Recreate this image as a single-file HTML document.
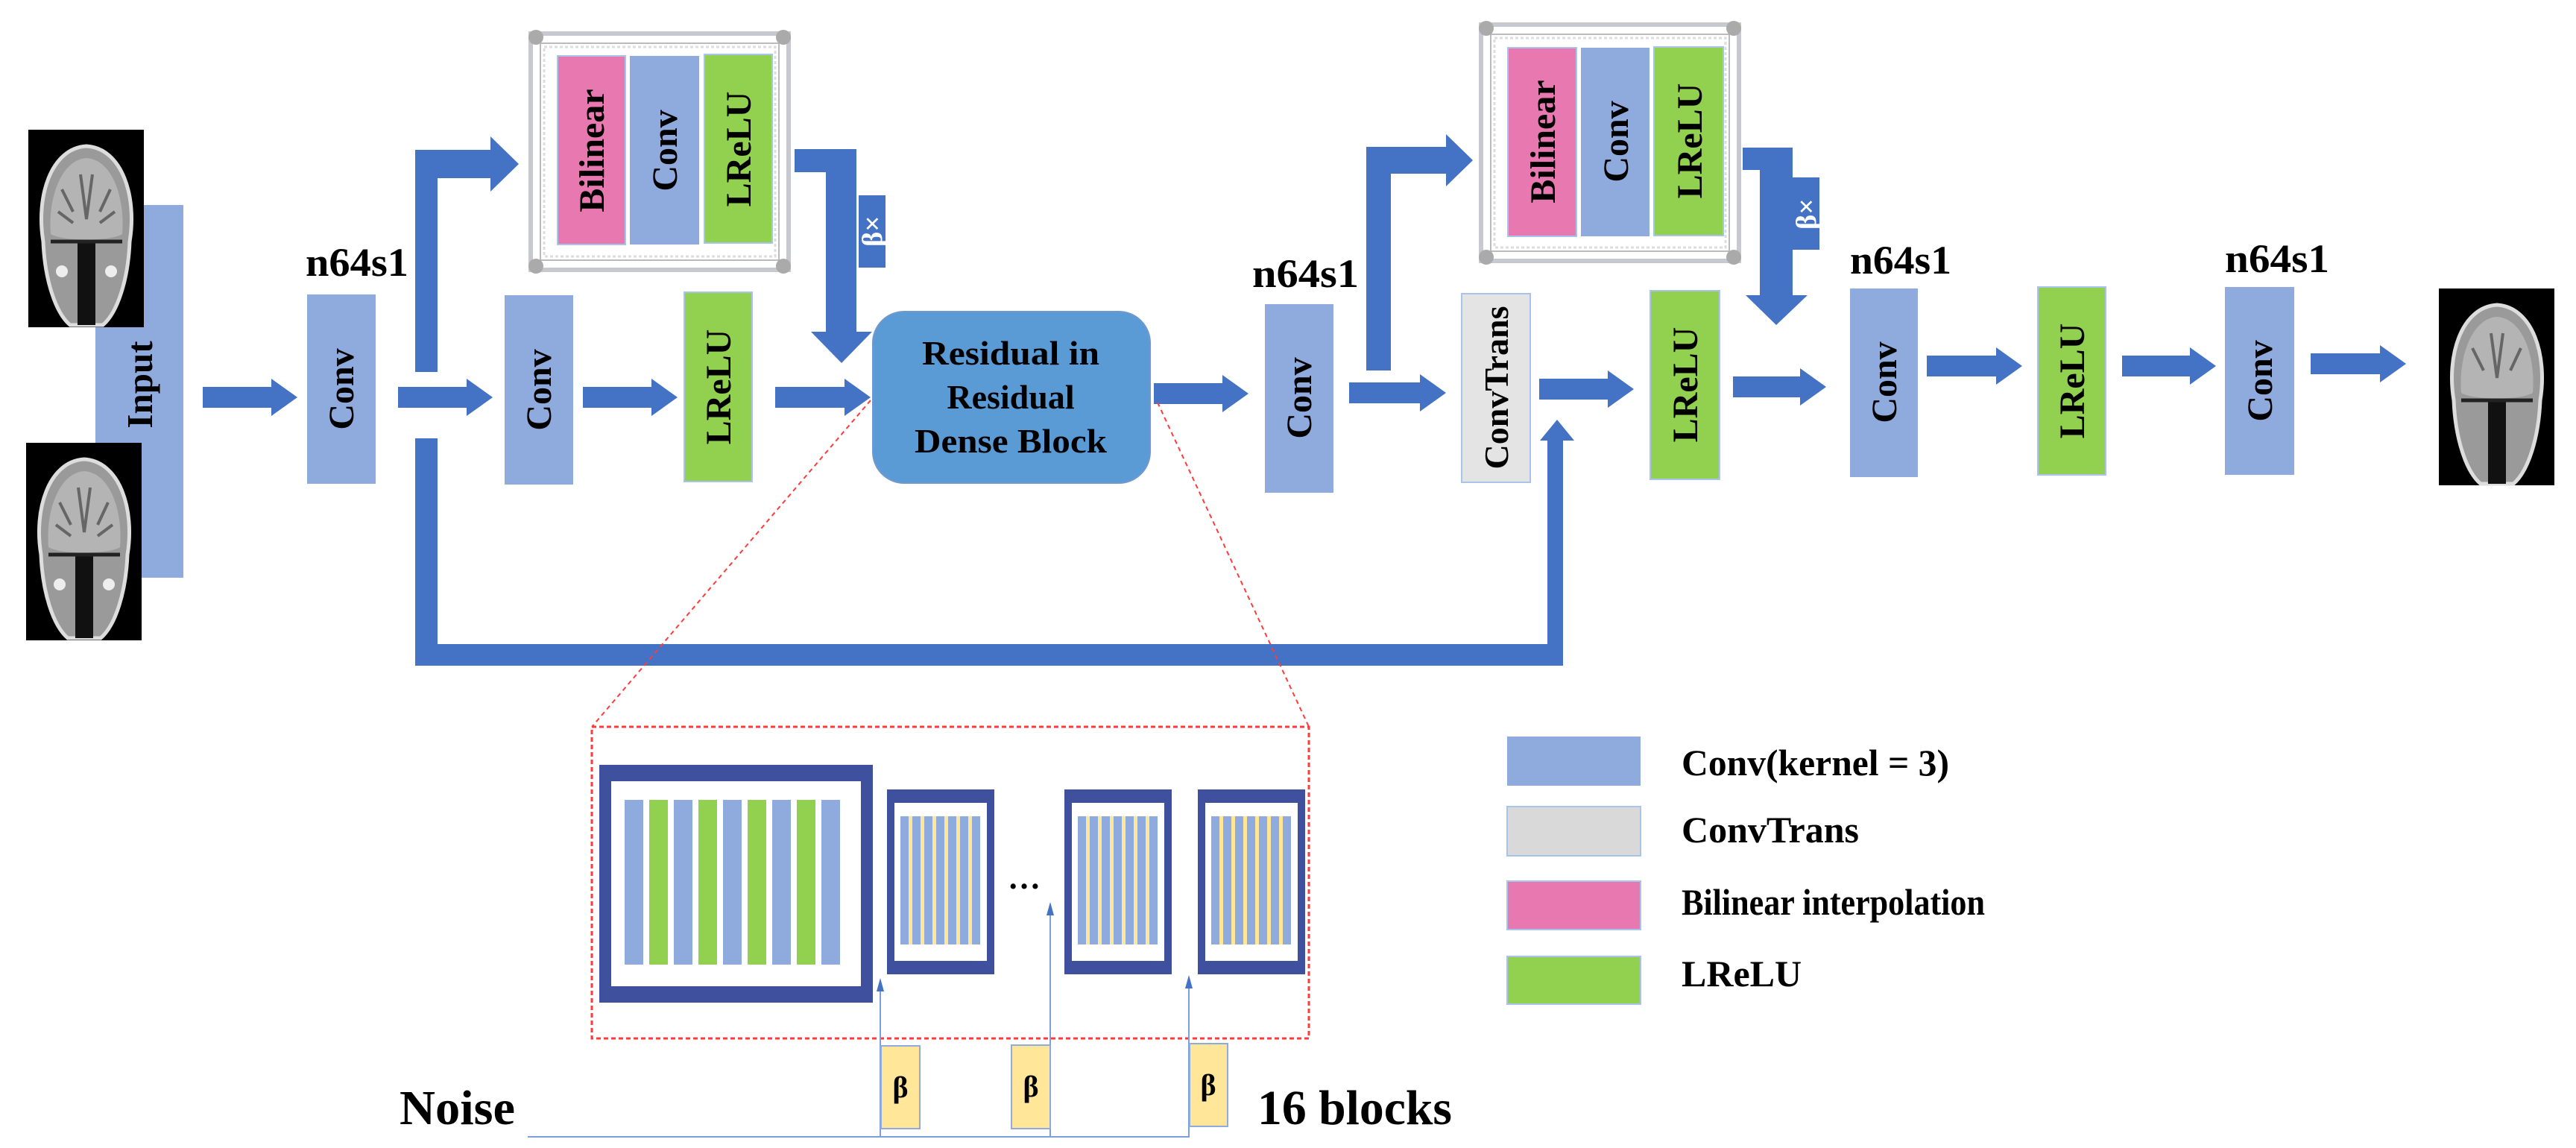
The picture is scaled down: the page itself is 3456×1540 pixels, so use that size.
<!DOCTYPE html>
<html><head><meta charset="utf-8"><style>
html,body{margin:0;padding:0;background:#fff;}
svg{display:block;}
text{font-family:"Liberation Serif",serif;font-weight:bold;fill:#000;}
</style></head><body>
<svg width="3456" height="1540" viewBox="0 0 3456 1540" xmlns="http://www.w3.org/2000/svg">
<defs>
<g id="brain">
<rect x="0" y="0" width="155" height="265" fill="#000"/>
<path d="M20,150 C10,90 30,25 78,22 C126,25 146,90 136,150 C134,200 120,245 100,262 L56,262 C36,245 22,200 20,150 Z" fill="#9a9a9a" stroke="#ddd" stroke-width="5"/>
<path d="M30,140 C26,90 45,40 78,38 C112,40 130,90 126,140 C110,150 46,150 30,140 Z" fill="#b4b4b4"/>
<path d="M70,60 L78,120 L86,60 M45,80 L60,110 M110,80 L96,110 M40,110 L60,125 M116,110 L96,125" stroke="#666" stroke-width="4" fill="none"/>
<rect x="66" y="150" width="24" height="112" fill="#111"/>
<path d="M30,150 L126,150" stroke="#222" stroke-width="5"/>
<circle cx="45" cy="190" r="8" fill="#eee"/><circle cx="111" cy="190" r="8" fill="#eee"/>
</g>
</defs>

<rect x="128" y="275" width="118" height="500" fill="#8faadc"/>
<use href="#brain" x="38" y="174"/>
<use href="#brain" x="35" y="594"/>
<text transform="translate(204,516) rotate(-90)" font-size="49" text-anchor="middle">Input</text>

<g fill="#4472c4">
<polygon points="272,519 364,519 364,508 399,533 364,558 364,547 272,547"/>
<polygon points="534,519 626,519 626,508 661,533 626,558 626,547 534,547"/>
<polygon points="782,519 874,519 874,508 909,533 874,558 874,547 782,547"/>
<polygon points="1040,519 1133,519 1133,508 1168,533 1133,558 1133,547 1040,547"/>
<polygon points="1548,514 1640,514 1640,503 1675,528 1640,553 1640,542 1548,542"/>
<polygon points="1810,513 1905,513 1905,502 1940,527 1905,552 1905,541 1810,541"/>
<polygon points="2065,508 2157,508 2157,497 2192,522 2157,547 2157,536 2065,536"/>
<polygon points="2325,505 2415,505 2415,494 2450,519 2415,544 2415,533 2325,533"/>
<polygon points="2585,477 2678,477 2678,466 2713,491 2678,516 2678,505 2585,505"/>
<polygon points="2847,477 2938,477 2938,466 2973,491 2938,516 2938,505 2847,505"/>
<polygon points="3100,474 3193,474 3193,463 3228,488 3193,513 3193,502 3100,502"/>
<polygon points="557,499 557,201 658,201 658,183 696,220 658,257 658,239 587,239 587,499"/>
<polygon points="557,588 587,588 587,864 2076,864 2076,591 2066,591 2089,563 2112,591 2097,591 2097,893 557,893"/>
<polygon points="1066,200 1149,200 1149,445 1170,445 1129,487 1088,445 1108,445 1108,231 1066,231"/>
<rect x="1152" y="262" width="36" height="97"/>
<polygon points="1833,497 1833,197 1940,197 1940,180 1976,215 1940,250 1940,233 1866,233 1866,497"/>
<polygon points="2338,198 2405,198 2405,396 2425,396 2383,436 2342,396 2361,396 2361,228 2338,228"/>
<rect x="2405" y="238" width="36" height="97"/>
</g>
<text transform="translate(1183,310) rotate(-90)" font-size="38" text-anchor="middle" style="fill:#fff">β×</text>
<text transform="translate(2436,287) rotate(-90)" font-size="38" text-anchor="middle" style="fill:#fff">β×</text>

<text x="410" y="370" font-size="54" textLength="138" lengthAdjust="spacingAndGlyphs">n64s1</text>
<text x="1680" y="385" font-size="54" textLength="143" lengthAdjust="spacingAndGlyphs">n64s1</text>
<text x="2482" y="367" font-size="54" textLength="136" lengthAdjust="spacingAndGlyphs">n64s1</text>
<text x="2985" y="365" font-size="54" textLength="140" lengthAdjust="spacingAndGlyphs">n64s1</text>

<g font-size="48">
<rect x="412" y="395" width="92" height="254" fill="#8faadc"/>
<text transform="translate(474,522) rotate(-90)" text-anchor="middle">Conv</text>
<rect x="677" y="396" width="92" height="254" fill="#8faadc"/>
<text transform="translate(739,523) rotate(-90)" text-anchor="middle">Conv</text>
<rect x="918" y="392" width="91" height="254" fill="#92d050" stroke="#a9c4ea" stroke-width="2"/>
<text transform="translate(980,519) rotate(-90)" text-anchor="middle">LReLU</text>
<rect x="1697" y="408" width="92" height="253" fill="#8faadc"/>
<text transform="translate(1759,534) rotate(-90)" text-anchor="middle">Conv</text>
<rect x="1961" y="394" width="92" height="253" fill="#e4e4e4" stroke="#a9c4ea" stroke-width="2"/>
<text transform="translate(2023,520) rotate(-90)" text-anchor="middle" font-size="46">ConvTrans</text>
<rect x="2214" y="390" width="93" height="253" fill="#92d050" stroke="#a9c4ea" stroke-width="2"/>
<text transform="translate(2277,516) rotate(-90)" text-anchor="middle">LReLU</text>
<rect x="2482" y="387" width="91" height="253" fill="#8faadc"/>
<text transform="translate(2544,513) rotate(-90)" text-anchor="middle">Conv</text>
<rect x="2734" y="385" width="91" height="252" fill="#92d050" stroke="#a9c4ea" stroke-width="2"/>
<text transform="translate(2796,511) rotate(-90)" text-anchor="middle">LReLU</text>
<rect x="2985" y="385" width="93" height="252" fill="#8faadc"/>
<text transform="translate(3048,511) rotate(-90)" text-anchor="middle">Conv</text>
</g>

<rect x="1171" y="418" width="372" height="230" rx="42" fill="#5b9bd5" stroke="#6f98cf" stroke-width="2"/>
<g font-size="46" text-anchor="middle">
<text x="1356" y="489" textLength="238" lengthAdjust="spacingAndGlyphs">Residual in</text>
<text x="1356" y="548">Residual</text>
<text x="1356" y="607" textLength="258" lengthAdjust="spacingAndGlyphs">Dense Block</text>
</g>

<g>
<rect x="712" y="45" width="346" height="317" fill="#fff" stroke="#c8c8d0" stroke-width="6"/>
<rect x="725" y="58" width="320" height="291" fill="none" stroke="#bbb" stroke-width="2"/>
<rect x="730" y="63" width="310" height="281" fill="none" stroke="#ddd" stroke-width="3" stroke-dasharray="4,3"/>
<circle cx="719" cy="50" r="10" fill="#aaa"/><circle cx="1051" cy="50" r="10" fill="#aaa"/>
<circle cx="719" cy="357" r="10" fill="#aaa"/><circle cx="1051" cy="357" r="10" fill="#aaa"/>
<rect x="748" y="75" width="91" height="253" fill="#e879b0" stroke="#a9c4ea" stroke-width="2"/>
<rect x="845" y="75" width="93" height="253" fill="#8faadc"/>
<rect x="945" y="73" width="91" height="253" fill="#92d050" stroke="#a9c4ea" stroke-width="2"/>
<g font-size="48" text-anchor="middle">
<text transform="translate(810,202) rotate(-90)">Bilinear</text>
<text transform="translate(908,202) rotate(-90)">Conv</text>
<text transform="translate(1007,200) rotate(-90)">LReLU</text>
</g>
</g>
<g>
<rect x="1987" y="33" width="346" height="317" fill="#fff" stroke="#c8c8d0" stroke-width="6"/>
<rect x="2000" y="46" width="320" height="291" fill="none" stroke="#bbb" stroke-width="2"/>
<rect x="2005" y="51" width="310" height="281" fill="none" stroke="#ddd" stroke-width="3" stroke-dasharray="4,3"/>
<circle cx="1994" cy="38" r="10" fill="#aaa"/><circle cx="2326" cy="38" r="10" fill="#aaa"/>
<circle cx="1994" cy="345" r="10" fill="#aaa"/><circle cx="2326" cy="345" r="10" fill="#aaa"/>
<rect x="2023" y="64" width="92" height="253" fill="#e879b0" stroke="#a9c4ea" stroke-width="2"/>
<rect x="2121" y="64" width="92" height="253" fill="#8faadc"/>
<rect x="2219" y="63" width="93" height="253" fill="#92d050" stroke="#a9c4ea" stroke-width="2"/>
<g font-size="48" text-anchor="middle">
<text transform="translate(2086,190) rotate(-90)">Bilinear</text>
<text transform="translate(2184,190) rotate(-90)">Conv</text>
<text transform="translate(2283,189) rotate(-90)">LReLU</text>
</g>
</g>

<g transform="translate(3272,387)">
<rect width="155" height="264" fill="#000"/>
<path d="M20,150 C10,90 30,25 78,22 C126,25 146,90 136,150 C134,200 120,245 100,262 L56,262 C36,245 22,200 20,150 Z" fill="#9a9a9a" stroke="#ddd" stroke-width="5"/>
<path d="M30,140 C26,90 45,40 78,38 C112,40 130,90 126,140 C110,150 46,150 30,140 Z" fill="#b4b4b4"/>
<path d="M70,60 L78,120 L86,60 M45,80 L60,110 M110,80 L96,110" stroke="#666" stroke-width="4" fill="none"/>
<rect x="66" y="150" width="24" height="112" fill="#111"/>
<path d="M30,150 L126,150" stroke="#222" stroke-width="5"/>
</g>

<g stroke="#ff3b3b" stroke-width="2" stroke-dasharray="6,5" fill="none">
<line x1="1168" y1="537" x2="794" y2="975"/>
<line x1="1553" y1="540" x2="1756" y2="975"/>
</g>
<rect x="794" y="975" width="962" height="418" fill="none" stroke="#ff3b3b" stroke-width="3" stroke-dasharray="6,4"/>

<rect x="804" y="1026" width="367" height="319" fill="#3f519e"/>
<rect x="820" y="1048" width="335" height="275" fill="#fff"/>
<g fill="#8faadc">
<rect x="838" y="1073" width="25" height="221"/><rect x="904" y="1073" width="25" height="221"/>
<rect x="970" y="1073" width="25" height="221"/><rect x="1036" y="1073" width="25" height="221"/>
<rect x="1102" y="1073" width="25" height="221"/>
</g>
<g fill="#92d050">
<rect x="871" y="1073" width="25" height="221"/><rect x="937" y="1073" width="25" height="221"/>
<rect x="1003" y="1073" width="25" height="221"/><rect x="1069" y="1073" width="25" height="221"/>
</g>

<g id="sf1">
<rect x="1190" y="1059" width="144" height="248" fill="#3f519e"/>
<rect x="1200" y="1077" width="124" height="212" fill="#fff"/>
<rect x="1208" y="1095" width="107" height="172" fill="#ffe699"/>
<g fill="#8faadc">
<rect x="1208" y="1095" width="11" height="172"/><rect x="1224" y="1095" width="11" height="172"/>
<rect x="1240" y="1095" width="11" height="172"/><rect x="1256" y="1095" width="11" height="172"/>
<rect x="1272" y="1095" width="11" height="172"/><rect x="1288" y="1095" width="11" height="172"/>
<rect x="1304" y="1095" width="11" height="172"/>
</g>
</g>
<use href="#sf1" x="238" y="0"/>
<use href="#sf1" x="417" y="0"/>
<text x="1352" y="1192" font-size="44">…</text>

<g stroke="#7ea0d8" stroke-width="2" fill="none">
<line x1="708" y1="1525" x2="1596" y2="1525"/>
<line x1="1181" y1="1525" x2="1181" y2="1322"/>
<line x1="1409" y1="1525" x2="1409" y2="1220"/>
<line x1="1595" y1="1525" x2="1595" y2="1318"/>
</g>
<g fill="#4472c4">
<polygon points="1176,1330 1181,1312 1186,1330"/>
<polygon points="1404,1228 1409,1210 1414,1228"/>
<polygon points="1590,1326 1595,1308 1600,1326"/>
</g>
<g fill="#ffe699" stroke="#8faadc" stroke-width="2">
<rect x="1182" y="1403" width="52" height="111"/>
<rect x="1357" y="1402" width="52" height="112"/>
<rect x="1596" y="1400" width="51" height="111"/>
</g>
<g font-size="40" text-anchor="middle">
<text x="1208" y="1472">β</text>
<text x="1383" y="1471">β</text>
<text x="1621" y="1469">β</text>
</g>
<text x="536" y="1508" font-size="66" textLength="155" lengthAdjust="spacingAndGlyphs">Noise</text>
<text x="1687" y="1508" font-size="66" textLength="261" lengthAdjust="spacingAndGlyphs">16 blocks</text>

<rect x="2022" y="988" width="179" height="66" fill="#8faadc"/>
<rect x="2022" y="1082" width="179" height="66" fill="#d9d9d9" stroke="#a9c4ea" stroke-width="2"/>
<rect x="2022" y="1182" width="179" height="65" fill="#e879b0" stroke="#a9c4ea" stroke-width="2"/>
<rect x="2022" y="1283" width="179" height="64" fill="#92d050" stroke="#a9c4ea" stroke-width="2"/>
<g font-size="50">
<text x="2256" y="1040" textLength="359" lengthAdjust="spacingAndGlyphs">Conv(kernel = 3)</text>
<text x="2256" y="1130">ConvTrans</text>
<text x="2256" y="1227" textLength="407" lengthAdjust="spacingAndGlyphs">Bilinear interpolation</text>
<text x="2256" y="1323">LReLU</text>
</g>
</svg>
</body></html>
